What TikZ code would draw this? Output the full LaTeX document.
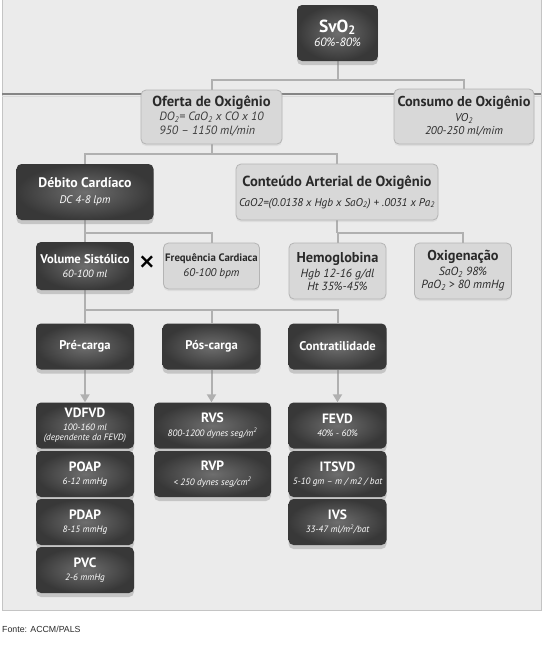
\documentclass[tikz,border=0pt]{standalone}
\usepackage{fontspec}
\setmainfont{PT Sans}
\newfontfamily\fontefont{Liberation Sans}
\usetikzlibrary{shadows,backgrounds,arrows.meta}
\definecolor{panel}{HTML}{EBEBEB}
\definecolor{panelline}{HTML}{C4C4C4}
\definecolor{boxin}{HTML}{6E6E6E}
\definecolor{boxout}{HTML}{383838}
\definecolor{lightfill}{HTML}{D8D8D8}
\definecolor{lightline}{HTML}{B4B4B4}
\definecolor{darktext}{HTML}{2A2A2A}
\definecolor{subdark}{HTML}{3C3C3C}
\definecolor{sublight}{HTML}{D4D4D4}
\definecolor{connc}{HTML}{B0B0B0}
\definecolor{rulec}{HTML}{858585}
\newcommand\bt[2]{{\fontsize{#1}{#1}\selectfont\bfseries\upshape #2}}
\begin{document}
\begin{tikzpicture}[x=1pt,y=-1pt,
  darkbox/.style={rounded corners=5pt, inner color=boxin, outer color=boxout,
    drop shadow={shadow xshift=0pt, shadow yshift=-4pt, opacity=0.35},
    text=white, align=center, inner sep=1pt},
  lightbox/.style={rounded corners=5pt, fill=lightfill, draw=lightline, line width=0.8pt,
    drop shadow={shadow xshift=0pt, shadow yshift=-2pt, opacity=0.12},
    text=darktext, align=center, inner sep=1pt},
  conn/.style={draw=connc, line width=2pt},
  arr/.style={conn, -{Triangle[width=9pt,length=8pt]}, connc},
  colbox/.style={minimum width=98pt, minimum height=46pt},
  dsub/.style={font=\fontsize{9.2}{10.5}\selectfont\itshape\color{sublight}}
]
\useasboundingbox (0,0) rectangle (543,645);

% level 0
\node[darkbox, minimum width=81pt, minimum height=56pt,
  font=\fontsize{12}{14}\selectfont\itshape\color{sublight}] (svo) at (337.5,33)
  {\bt{17.5}{\color{white}SvO\textsubscript{2}}\\60\%-80\%};

% level 1
\node[lightbox, minimum width=141pt, minimum height=54pt] (oferta) at (211.5,117)
  {\bt{14.6}{Oferta de Oxigênio}\\[1pt]{\fontsize{12}{13.5}\selectfont\itshape\color{subdark}\begin{tabular}{@{}l@{}}DO\textsubscript{2}= CaO\textsubscript{2} x CO x 10\\950 – 1150 ml/min\end{tabular}}};
\node[lightbox, minimum width=140pt, minimum height=55pt,
  font=\fontsize{11.3}{13}\selectfont\itshape\color{subdark}] (consumo) at (464,116.5)
  {\bt{14.3}{\color{darktext}Consumo de Oxigênio}\\[2pt]VO\textsubscript{2}\\200-250 ml/mim};

% level 2
\node[darkbox, minimum width=137pt, minimum height=56pt,
  font=\fontsize{11}{13}\selectfont\itshape\color{sublight}] (debito) at (85,192)
  {\bt{13.8}{\color{white}Débito Cardíaco}\\[3pt]DC 4-8 lpm};
\node[lightbox, minimum width=202pt, minimum height=56pt,
  font=\fontsize{11.2}{13}\selectfont\itshape\color{subdark}] (conteudo) at (337,192)
  {\bt{14.6}{\color{darktext}Conteúdo Arterial de Oxigênio}\\[7pt]CaO2=(0.0138 x Hgb x SaO\textsubscript{2}) + .0031 x Pa\textsubscript{2}};

% level 3
\node[darkbox, minimum width=98pt, minimum height=48pt,
  font=\fontsize{10.5}{12.5}\selectfont\itshape\color{sublight}] (volume) at (85,266)
  {\bt{12.6}{\color{white}Volume Sistólico}\\[2pt]60-100 ml};
\node[text=black, inner sep=0pt] (times) at (147,265) {\fontsize{34}{34}\selectfont ×};
\node[lightbox, minimum width=96pt, minimum height=46pt,
  font=\fontsize{11.2}{12.5}\selectfont\itshape\color{subdark}] (freq) at (211.5,266)
  {\bt{10.8}{\color{darktext}Frequência Cardiaca}\\[2pt]60-100 bpm};
\node[lightbox, minimum width=97pt, minimum height=56pt,
  font=\fontsize{11.8}{13}\selectfont\itshape\color{subdark}] (hemo) at (337.5,271)
  {\bt{14.3}{\color{darktext}Hemoglobina}\\[2pt]Hgb 12-16 g/dl\\Ht 35\%-45\%};
\node[lightbox, minimum width=97pt, minimum height=56pt,
  font=\fontsize{11.8}{13}\selectfont\itshape\color{subdark}] (oxig) at (463,271)
  {\bt{14.3}{\color{darktext}Oxigenação}\\[2pt]SaO\textsubscript{2} 98\%\\PaO\textsubscript{2} > 80 mmHg};

% level 4
\node[darkbox, colbox] (pre) at (85,346.5) {\bt{12.6}{Pré-carga}};
\node[darkbox, colbox] (pos) at (211.5,346.5) {\bt{12.6}{Pós-carga}};
\node[darkbox, colbox] (contr) at (337.5,346.5) {\bt{12.6}{Contratilidade}};

% level 5+
\node[darkbox, colbox, dsub] (vdfvd) at (85,425.5)
  {\bt{13.5}{\color{white}VDFVD}\\[2pt]100-160 ml\\(dependente da FEVD)};
\node[darkbox, colbox, dsub] (poap) at (85,474)
  {\bt{13.5}{\color{white}POAP}\\[3pt]6-12 mmHg};
\node[darkbox, colbox, dsub] (pdap) at (85,522)
  {\bt{13.5}{\color{white}PDAP}\\[3pt]8-15 mmHg};
\node[darkbox, colbox, dsub] (pvc) at (85,570)
  {\bt{13.5}{\color{white}PVC}\\[3pt]2-6 mmHg};

\node[darkbox, colbox, dsub, minimum width=117pt] (rvs) at (212.5,425.5)
  {\bt{13.5}{\color{white}RVS}\\[4pt]800-1200 dynes seg/m\textsuperscript{2}};
\node[darkbox, colbox, dsub, minimum width=117pt] (rvp) at (212.5,474)
  {\bt{13.5}{\color{white}RVP}\\[4pt]< 250 dynes seg/cm\textsuperscript{2}};

\node[darkbox, colbox, dsub] (fevd) at (337.5,425.5)
  {\bt{13.5}{\color{white}FEVD}\\[3pt]40\% - 60\%};
\node[darkbox, colbox, dsub] (itsvd) at (337.5,474)
  {\bt{13.5}{\color{white}ITSVD}\\[3pt]5-10 gm – m / m2 / bat};
\node[darkbox, colbox, dsub] (ivs) at (337.5,522)
  {\bt{13.5}{\color{white}IVS}\\[3pt]33-47 ml/m\textsuperscript{2}/bat};

% source
\node[anchor=west, inner sep=0pt, text=darktext] (fonte) at (2,629)
  {\fontefont\fontsize{8.8}{8.8}\selectfont Fonte: ACCM/PALS};

% connectors
\coordinate (j1) at (337.5,80);
\coordinate (j2) at (211.5,154);
\coordinate (j3a) at (85,233);
\coordinate (j3b) at (337.5,233);
\coordinate (j4) at (85,310);
\begin{scope}[on background layer]
  \fill[panel] (2,0) rectangle (541,610);
  \draw[panelline, line width=0.8pt] (2,0) -- (2,610) -- (541,610) -- (541,0);
  \draw[rulec, line width=2.6pt] (2,94) -- (541,94);
  \draw[white!70!rulec, line width=0.8pt] (2,96.5) -- (541,96.5);
  \draw[conn] (svo.south) -- (j1);
  \draw[conn] (j1) -| (oferta.north);
  \draw[conn] (j1) -| (consumo.north);
  \draw[conn] (oferta.south) -- (j2);
  \draw[conn] (j2) -| (debito.north);
  \draw[conn] (j2) -| (conteudo.north);
  \draw[conn] (debito.south) -- (j3a);
  \draw[conn] (j3a) -- (volume.north);
  \draw[conn] (j3a) -| (freq.north);
  \draw[conn] (conteudo.south) -- (conteudo.south |- j3b);
  \draw[conn] (conteudo.south |- j3b) -- (j3b) -- (hemo.north);
  \draw[conn] (j3b) -| (oxig.north);
  \draw[conn] (volume.south) -- (j4);
  \draw[conn] (j4) -- (pre.north);
  \draw[conn] (j4) -| (pos.north);
  \draw[conn] (j4) -| (contr.north);
  \draw[arr] (pre.south) -- (vdfvd.north);
  \draw[arr] (pos.south) -- (rvs.north -| pos.south);
  \draw[arr] (contr.south) -- (fevd.north);
\end{scope}
\end{tikzpicture}
\end{document}
